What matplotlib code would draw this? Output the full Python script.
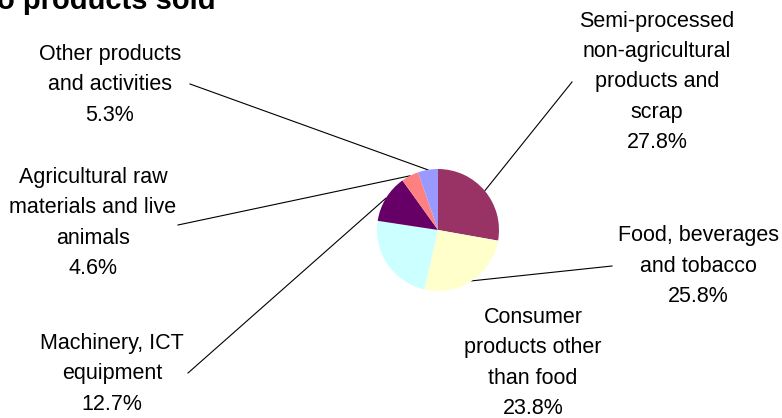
import numpy as np
import matplotlib
matplotlib.use("Agg")
import matplotlib.pyplot as plt

# ---- data ----
categories = [
    "Semi-processed\nnon-agricultural\nproducts and\nscrap",
    "Food, beverages\nand tobacco",
    "Consumer\nproducts other\nthan food",
    "Machinery, ICT\nequipment",
    "Agricultural raw\nmaterials and live\nanimals",
    "Other products\nand activities",
]
shares = [27.8, 25.8, 23.8, 12.7, 4.6, 5.3]
colors = ["#993366", "#FFFFCC", "#CCFFFF", "#660066", "#FF8080", "#9999FF"]
title_text = "o products sold"

# ---- layout (pixel coordinates, y from top) ----
W, H = 782, 418
pie_center = (438, 230)
pie_radius = 61
label_centers = [(657, 82), (698, 266), (533, 363), (112, 374), (93, 223), (110, 85)]
leader_ends = [(572, 82), (612, 266), None, (188, 373), (178, 225), (190, 84)]

fig = plt.figure(figsize=(W / 100, H / 100), dpi=100)
ax = fig.add_axes([0, 0, 1, 1])

cx, cy = pie_center[0], H - pie_center[1]
wedges, _ = ax.pie(shares, colors=colors, startangle=90, counterclock=False,
                   center=(cx, cy), radius=pie_radius,
                   wedgeprops=dict(linewidth=0, antialiased=True), frame=False)
ax.set_xlim(0, W)
ax.set_ylim(0, H)
ax.set_aspect("equal", adjustable="box")
ax.axis("off")

font = "Liberation Sans"
for w, cat, val, (lx, ly), le in zip(wedges, categories, shares, label_centers, leader_ends):
    mid = np.deg2rad((w.theta1 + w.theta2) / 2)
    if le is not None:
        px = cx + pie_radius * np.cos(mid)
        py = cy + pie_radius * np.sin(mid)
        ax.plot([px, le[0]], [py, H - le[1]], color="black", lw=0.8, zorder=0)
    ax.text(lx, H - ly, f"{cat}\n{val:.1f}%", ha="center", va="center",
            multialignment="center", fontsize=15.5, family=font, linespacing=1.58,
            color="black")

ax.text(-3, H - 9, title_text, ha="left", va="baseline", fontsize=21,
        fontweight="bold", family=font, color="black")

fig.savefig("out.png", dpi=100)
